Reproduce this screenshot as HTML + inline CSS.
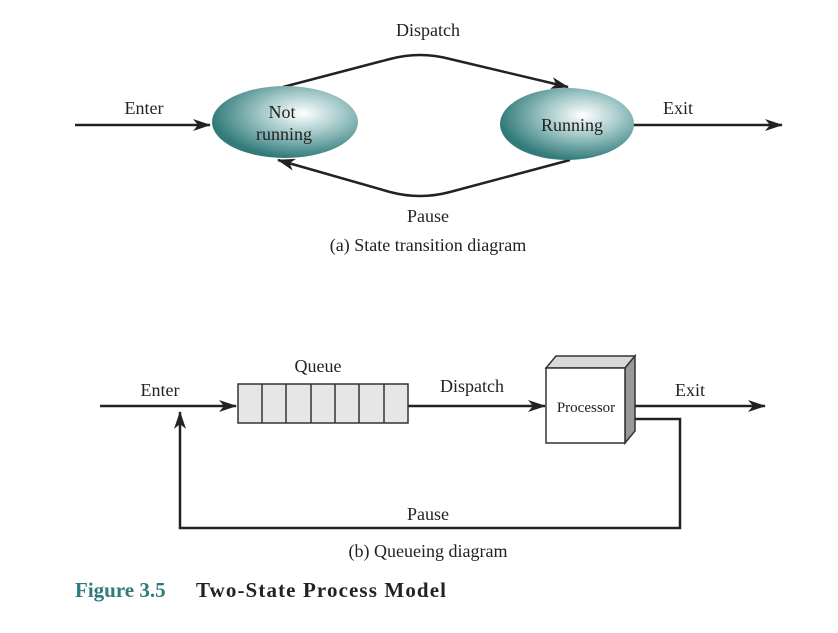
<!DOCTYPE html>
<html><head><style>body{margin:0;background:#fff}</style></head><body>
<svg width="838" height="628" xmlns="http://www.w3.org/2000/svg" font-family="Liberation Serif, serif" font-size="18" fill="#222">
<defs>
<radialGradient id="g" cx="0.62" cy="0.38" r="0.62"><stop offset="0" stop-color="#fff"/><stop offset="0.45" stop-color="#a4c9c9"/><stop offset="1" stop-color="#337b7b"/></radialGradient>
<marker id="a" markerWidth="18" markerHeight="12" refX="17" refY="6" orient="auto" markerUnits="userSpaceOnUse"><path d="M0,0 L18,6 L0,12 L5,6z" fill="#222"/></marker>
</defs>
<g stroke="#222" stroke-width="2.5" fill="none">
<line x1="75" y1="125" x2="210" y2="125" marker-end="url(#a)"/>
<line x1="608" y1="125" x2="782" y2="125" marker-end="url(#a)"/>
<path d="M283,87 L390,59 Q420,51 450,59 L568,87" marker-end="url(#a)"/>
<path d="M570,160 L450,192 Q420,200 390,192 L278,160" marker-end="url(#a)"/>
</g>
<ellipse cx="285" cy="122" rx="73" ry="36" fill="url(#g)"/>
<ellipse cx="567" cy="124" rx="67" ry="36" fill="url(#g)"/>
<text x="282" y="118" text-anchor="middle">Not</text>
<text x="284" y="140" text-anchor="middle">running</text>
<text x="572" y="131" text-anchor="middle">Running</text>
<text x="144" y="114" text-anchor="middle">Enter</text>
<text x="678" y="114" text-anchor="middle">Exit</text>
<text x="428" y="36" text-anchor="middle">Dispatch</text>
<text x="428" y="222" text-anchor="middle">Pause</text>
<text x="428" y="251" text-anchor="middle">(a) State transition diagram</text>

<g stroke="#222" stroke-width="2.5" fill="none">
<line x1="100" y1="406" x2="236" y2="406" marker-end="url(#a)"/>
<line x1="408" y1="406" x2="545" y2="406" marker-end="url(#a)"/>
<line x1="628" y1="406" x2="765" y2="406" marker-end="url(#a)"/>
<polyline points="628,419 680,419 680,528 180,528 180,412" marker-end="url(#a)"/>
</g>
<g stroke="#333" stroke-width="1.5">
<rect x="238" y="384" width="170" height="39" fill="#e6e6e6"/>
<line x1="262" y1="384" x2="262" y2="423"/><line x1="286" y1="384" x2="286" y2="423"/><line x1="311" y1="384" x2="311" y2="423"/><line x1="335" y1="384" x2="335" y2="423"/><line x1="359" y1="384" x2="359" y2="423"/><line x1="384" y1="384" x2="384" y2="423"/>
<polygon points="546,368 556,356 635,356 625,368" fill="#d8d8d8"/>
<polygon points="625,368 635,356 635,431 625,443" fill="#999"/>
<rect x="546" y="368" width="79" height="75" fill="#fff"/>
</g>
<text x="586" y="412" text-anchor="middle" font-size="15">Processor</text>
<text x="318" y="372" text-anchor="middle">Queue</text>
<text x="472" y="392" text-anchor="middle">Dispatch</text>
<text x="160" y="396" text-anchor="middle">Enter</text>
<text x="690" y="396" text-anchor="middle">Exit</text>
<text x="428" y="520" text-anchor="middle">Pause</text>
<text x="428" y="557" text-anchor="middle">(b) Queueing diagram</text>
<text x="75" y="597" font-size="21" font-weight="bold" fill="#2e7b7b">Figure 3.5</text>
<text x="196" y="597" font-size="21" font-weight="bold" fill="#222" textLength="250">Two-State Process Model</text>
</svg>
</body></html>
